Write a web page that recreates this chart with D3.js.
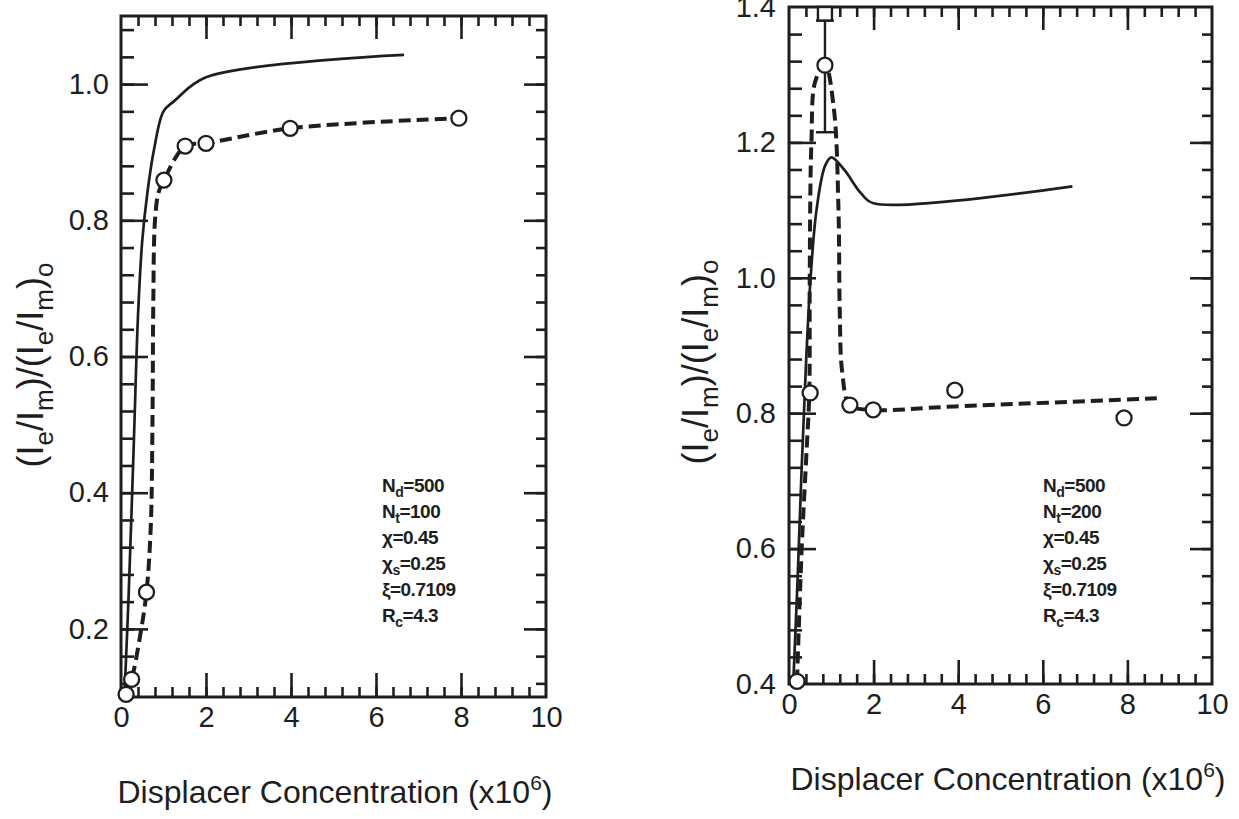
<!DOCTYPE html>
<html>
<head>
<meta charset="utf-8">
<script src="https://cdn.jsdelivr.net/npm/d3@7"></script>
<style>
body{margin:0;background:#fff;}
text{font-family:"Liberation Sans",Arial,Helvetica,sans-serif;fill:#1e1e1e;}
.tick line,.frame{stroke:#1e1e1e;}
</style>
</head>
<body>
<script>
// ---- left panel (Nt=100) ----
var leftCircleX=[0.12,0.25,0.6,1.01,1.51,2.0,3.98,7.95];
var leftCircleY=[0.104,0.126,0.254,0.859,0.909,0.913,0.935,0.95];
var leftSolidX=[0.08,0.18,0.3,0.4,0.5,0.62,0.78,1.0,1.25,2.0,6.66];
var leftSolidY=[0.1,0.25,0.47,0.66,0.77,0.84,0.905,0.96,0.975,1.01,1.043];
var leftDashX=[0.12,0.25,0.45,0.6,0.7,0.74,0.76,0.8,0.88,1.01,1.51,2.0,3.98,7.95];
var leftDashY=[0.104,0.126,0.19,0.254,0.35,0.5,0.68,0.8,0.84,0.859,0.909,0.913,0.935,0.95];
var leftParams=["N|d|=500","N|t|=100","\u03c7=0.45","\u03c7|s|=0.25","\u03be=0.7109","R|c|=4.3"];

// ---- right panel (Nt=200) ----
var rightCircleX=[0.19,0.5,0.85,1.44,1.99,3.92,7.92];
var rightCircleY=[0.404,0.83,1.314,0.812,0.805,0.834,0.793];
var rightErrX=[0.85];
var rightErrLow=[1.215];
var rightErrHigh=[1.38];
var rightSolidX=[0.1,0.2,0.3,0.4,0.5,0.65,0.85,1.0,1.3,1.7,2.0,6.7];
var rightSolidY=[0.4,0.55,0.72,0.87,0.99,1.1,1.165,1.178,1.16,1.125,1.11,1.135];
var rightDashX=[0.19,0.3,0.42,0.48,0.49,0.53,0.62,0.85,1.06,1.17,1.2,1.26,1.44,1.99,3.92,8.7];
var rightDashY=[0.404,0.6,0.75,0.83,1.0,1.2,1.29,1.315,1.25,1.1,0.95,0.86,0.812,0.805,0.81,0.822];
var rightParams=["N|d|=500","N|t|=200","\u03c7=0.45","\u03c7|s|=0.25","\u03be=0.7109","R|c|=4.3"];

// ---- ticks ----
var xMajor=[0,2,4,6,8,10];
var leftYMajor=[0.2,0.4,0.6,0.8,1.0];
var rightYMajor=[0.4,0.6,0.8,1.0,1.2,1.4];

var W=1239,H=819;
var svg=d3.select("body").append("svg").attr("width",W).attr("height",H);
svg.append("rect").attr("width",W).attr("height",H).attr("fill","#fff");

function zip(a,b){return a.map(function(v,i){return [v,b[i]];});}
function steps(lo,hi,st){var out=[];for(var v=lo;v<=hi+1e-9;v+=st)out.push(+v.toFixed(3));return out;}

function drawPanel(p){
  var g=svg.append("g");
  var f=p.frame;
  var x=d3.scaleLinear().domain([0,10]).range([f.x0,f.x1]);
  var y=d3.scaleLinear().domain(p.yDomain).range([f.y1,f.y0]);
  var insideX=function(v){var px=x(v);return px>f.x0+2&&px<f.x1-2;};
  var insideY=function(v){var py=y(v);return py>f.y0+2&&py<f.y1-2;};

  // ticks, all pointing inward
  var yMinor=steps(Math.ceil(p.yDomain[0]/0.04)*0.04,p.yDomain[1],0.04).filter(insideY);
  var yMaj=p.yMajor.filter(insideY);
  var xMinor=steps(0,10,0.4).filter(insideX);
  var xMaj=xMajor.filter(insideX);
  function ticks(axis,tr,vals,len){
    g.append("g").attr("transform",tr).call(axis.tickValues(vals).tickSize(-len).tickFormat(""));
  }
  ticks(d3.axisLeft(y),"translate("+f.x0+",0)",yMinor,13);
  ticks(d3.axisLeft(y),"translate("+f.x0+",0)",yMaj,27);
  ticks(d3.axisRight(y),"translate("+f.x1+",0)",yMinor,10);
  ticks(d3.axisRight(y),"translate("+f.x1+",0)",yMaj,22);
  ticks(d3.axisTop(x),"translate(0,"+f.y0+")",xMinor,10);
  ticks(d3.axisTop(x),"translate(0,"+f.y0+")",xMaj,23);
  ticks(d3.axisBottom(x),"translate(0,"+f.y1+")",xMinor,10);
  ticks(d3.axisBottom(x),"translate(0,"+f.y1+")",xMaj,24);
  g.selectAll(".domain").remove();
  g.selectAll(".tick line").attr("stroke-width",2.6);

  // tick labels
  var yl=g.append("g").attr("transform","translate("+f.x0+",0)")
    .call(d3.axisLeft(y).tickValues(p.yMajor).tickSize(0).tickPadding(p.yPad).tickFormat(d3.format(".1f")));
  var xl=g.append("g").attr("transform","translate(0,"+f.y1+")")
    .call(d3.axisBottom(x).tickValues(xMajor).tickSize(0).tickPadding(p.xPad).tickFormat(d3.format("d")));
  yl.select(".domain").remove();xl.select(".domain").remove();
  g.selectAll(".tick text").attr("font-size",29).attr("font-family","Liberation Sans, Arial, sans-serif").attr("fill","#1e1e1e");

  // frame
  g.append("rect").attr("class","frame").attr("x",f.x0).attr("y",f.y0)
    .attr("width",f.x1-f.x0).attr("height",f.y1-f.y0)
    .attr("fill","none").attr("stroke-width",3);

  var line=d3.line().x(function(d){return x(d[0]);}).y(function(d){return y(d[1]);}).curve(d3.curveCatmullRom.alpha(0.5));

  g.append("path").datum(zip(p.solidX,p.solidY)).attr("d",line)
    .attr("fill","none").attr("stroke","#1e1e1e").attr("stroke-width",2.7);
  g.append("path").datum(zip(p.dashX,p.dashY)).attr("d",line)
    .attr("fill","none").attr("stroke","#1e1e1e").attr("stroke-width",4)
    .attr("stroke-dasharray","12,6");

  if(p.errX){
    p.errX.forEach(function(ex,i){
      var cx=x(ex);
      g.append("line").attr("x1",cx).attr("x2",cx).attr("y1",y(p.errHigh[i])).attr("y2",y(p.errLow[i]))
        .attr("stroke","#1e1e1e").attr("stroke-width",2.4);
      [p.errHigh[i],p.errLow[i]].forEach(function(v){
        g.append("line").attr("x1",cx-9).attr("x2",cx+9).attr("y1",y(v)).attr("y2",y(v))
          .attr("stroke","#1e1e1e").attr("stroke-width",2.4);
      });
      g.append("rect").attr("x",cx-7).attr("y",f.y0).attr("width",14).attr("height",y(p.errHigh[i])-f.y0)
        .attr("fill","#fff").attr("stroke","#1e1e1e").attr("stroke-width",2.4);
    });
  }

  g.selectAll("circle.pt").data(zip(p.circX,p.circY)).enter().append("circle")
    .attr("class","pt").attr("cx",function(d){return x(d[0]);}).attr("cy",function(d){return y(d[1]);})
    .attr("r",7.5).attr("fill","#fff").attr("stroke","#1e1e1e").attr("stroke-width",2.3);

  // parameter block
  var pt=g.append("g");
  p.params.forEach(function(s,i){
    var parts=s.split("|");
    var t=pt.append("text").attr("x",p.paramX).attr("y",p.paramY+i*p.paramStep)
      .attr("font-size",19).attr("font-weight","bold").attr("letter-spacing","-0.5");
    t.append("tspan").text(parts[0]);
    if(parts.length>1){
      t.append("tspan").attr("dy",5).attr("font-size",14).text(parts[1]);
      t.append("tspan").attr("dy",-5).text(parts[2]);
    }
  });

  // axis titles
  var xt=g.append("text").attr("x",p.xTitle[0]).attr("y",p.xTitle[1]).attr("text-anchor","middle").attr("font-size",32);
  xt.append("tspan").text("Displacer Concentration (x10");
  xt.append("tspan").attr("dy",-13).attr("font-size",21).text("6");
  xt.append("tspan").attr("dy",13).text(")");

  var yt=g.append("text").attr("transform","translate("+p.yTitle[0]+","+p.yTitle[1]+") rotate(-90)")
    .attr("text-anchor","middle").attr("font-size",36);
  var pieces=[["(I",0],["e",1],["/I",0],["m",1],[")/(I",0],["e",1],["/I",0],["m",1],[")",0],["o",1]];
  var down=0;
  pieces.forEach(function(pc){
    var dy=0;
    if(pc[1]&&!down){dy=10;down=1;}else if(!pc[1]&&down){dy=-10;down=0;}
    yt.append("tspan").attr("dy",dy).attr("font-size",pc[1]?26:36).text(pc[0]);
  });
}

drawPanel({
  frame:{x0:121,x1:546,y0:16,y1:697},
  yDomain:[0.1,1.1],yMajor:leftYMajor,
  yPad:12,xPad:9,
  solidX:leftSolidX,solidY:leftSolidY,dashX:leftDashX,dashY:leftDashY,
  circX:leftCircleX,circY:leftCircleY,
  params:leftParams,paramX:382,paramY:492,paramStep:26,
  xTitle:[335,803],yTitle:[43,365]
});

drawPanel({
  frame:{x0:789,x1:1212,y0:7,y1:684},
  yDomain:[0.4,1.4],yMajor:rightYMajor,
  yPad:13,xPad:9,
  solidX:rightSolidX,solidY:rightSolidY,dashX:rightDashX,dashY:rightDashY,
  circX:rightCircleX,circY:rightCircleY,
  errX:rightErrX,errLow:rightErrLow,errHigh:rightErrHigh,
  params:rightParams,paramX:1043,paramY:492,paramStep:26,
  xTitle:[1008,790],yTitle:[708,362]
});
</script>
</body>
</html>
